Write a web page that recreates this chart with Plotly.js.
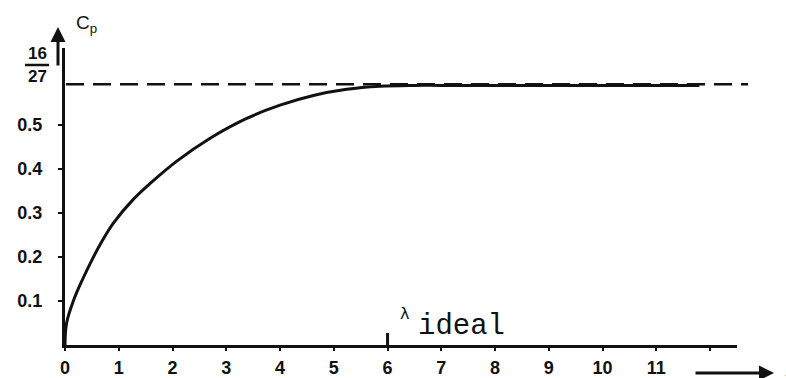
<!DOCTYPE html>
<html>
<head>
<meta charset="utf-8">
<script src="https://cdn.plot.ly/plotly-3.0.1.min.js"></script>
<style>html,body{margin:0;padding:0;background:#fff;}#chart{width:786px;height:378px;}</style>
</head>
<body>
<div id="chart"></div>
<script>
// Data
var lambdaVals = [0, 0.03, 0.155, 0.33, 0.5, 0.68, 0.9, 1.27, 1.61, 2.08, 2.7, 3.38, 4.0, 4.62, 5.24, 5.86, 6.5, 7, 8, 9, 10, 11, 11.8];
var cpVals     = [0, 0.05, 0.10, 0.15, 0.193, 0.234, 0.277, 0.331, 0.370, 0.418, 0.470, 0.515, 0.545, 0.567, 0.581, 0.588, 0.590, 0.590, 0.590, 0.590, 0.590, 0.590, 0.590];
var betzLimit = 16 / 27;
var xTickVals = [0,1,2,3,4,5,6,7,8,9,10,11,12];
var xTickText = ["0","1","2","3","4","5","6","7","8","9","10","11",""];
var yTickVals = [0.1, 0.2, 0.3, 0.4, 0.5];
var yTickText = ["0.1","0.2","0.3","0.4","0.5"];
var lambdaIdeal = 6;

// layout helpers (pixel -> paper)
var L = 65, R = 49, T = 48, B = 33, W = 786, H = 378;
var pw = W - L - R, ph = H - T - B;
function px(x){ return (x - L) / pw; }
function py(y){ return (H - B - y) / ph; }

var ink = '#111';
var tickFont = {family: 'Liberation Sans, Arial, sans-serif', size: 18, color: ink, weight: 'bold'};

var trace = {
  x: lambdaVals, y: cpVals, type: 'scatter', mode: 'lines',
  line: {color: ink, width: 3, shape: 'spline', smoothing: 1.1},
  hoverinfo: 'skip', showlegend: false
};

function txt(x, y, text, font){
  return {xref: 'paper', yref: 'paper', x: px(x), y: py(y), xanchor: 'center', yanchor: 'middle',
          text: text, showarrow: false, font: font};
}

var layout = {
  width: W, height: H,
  margin: {l: L, r: R, t: T, b: B, pad: 0},
  paper_bgcolor: '#fff', plot_bgcolor: '#fff',
  showlegend: false,
  xaxis: {
    range: [0, 12.5], showgrid: false, zeroline: false,
    showline: true, linecolor: ink, linewidth: 3,
    tickmode: 'array', tickvals: xTickVals, ticktext: xTickText,
    ticks: 'outside', ticklen: 3, tickwidth: 2, tickcolor: ink,
    tickfont: tickFont, ticklabelstandoff: 1
  },
  yaxis: {
    range: [0, 0.675], showgrid: false, zeroline: false,
    showline: true, linecolor: ink, linewidth: 3,
    tickmode: 'array', tickvals: yTickVals, ticktext: yTickText,
    ticks: 'outside', ticklen: 4, tickwidth: 2, tickcolor: ink,
    tickfont: tickFont, ticklabelstandoff: 12
  },
  shapes: [
    // Betz limit dashed line
    {type: 'line', xref: 'paper', yref: 'paper', x0: px(66), x1: px(748), y0: py(345 - betzLimit*440), y1: py(345 - betzLimit*440),
     line: {color: ink, width: 2.5, dash: '18px,9px'}},
    // lambda ideal tick
    {type: 'line', xref: 'x', yref: 'paper', x0: lambdaIdeal, x1: lambdaIdeal, y0: py(346), y1: py(333),
     line: {color: ink, width: 3}},
    // fraction bar for 16/27
    {type: 'line', xref: 'paper', yref: 'paper', x0: px(25), x1: px(49), y0: py(65), y1: py(65),
     line: {color: ink, width: 2.5}}
  ],
  annotations: [
    txt(37, 53, '<b>16</b>', {family: 'Liberation Sans, Arial, sans-serif', size: 17, color: ink}),
    txt(37, 76, '<b>27</b>', {family: 'Liberation Sans, Arial, sans-serif', size: 17, color: ink}),
    txt(86, 24, 'C<sub>p</sub>', {family: 'Liberation Sans, Arial, sans-serif', size: 19, color: ink}),
    // y-axis arrow
    {xref: 'paper', yref: 'paper', x: px(58), y: py(27), ax: 0, ay: 40, text: '', showarrow: true,
     arrowhead: 2, arrowsize: 1, arrowwidth: 3, arrowcolor: ink},
    // lambda ideal label
    txt(404, 313, 'λ', {family: 'DejaVu Sans, sans-serif', size: 16, color: ink}),
    txt(461, 326, 'ideal', {family: 'Liberation Mono, Courier New, monospace', size: 29, color: ink}),
    // x-axis arrow
    {xref: 'paper', yref: 'paper', x: px(774), y: py(373), ax: -80, ay: 0, text: '', showarrow: true,
     arrowhead: 2, arrowsize: 1, arrowwidth: 3, arrowcolor: ink},
    txt(789, 370, 'λ', {family: 'DejaVu Sans, sans-serif', size: 16, color: ink})
  ]
};

Plotly.newPlot('chart', [trace], layout, {staticPlot: true, displayModeBar: false});
</script>
</body>
</html>
